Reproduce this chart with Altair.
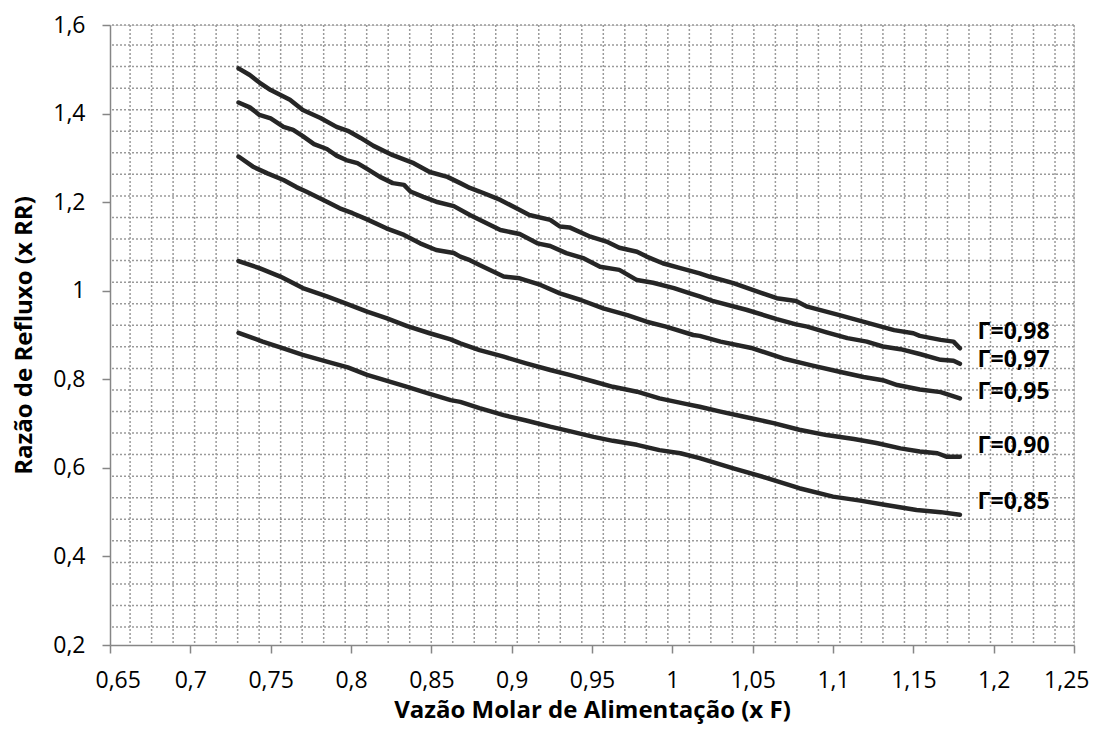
import altair as alt
import pandas as pd

# ---- axis ticks ----
x_ticks = [0.65, 0.7, 0.75, 0.8, 0.85, 0.9, 0.95, 1.0, 1.05, 1.1, 1.15, 1.2, 1.25]
y_ticks = [0.2, 0.4, 0.6, 0.8, 1.0, 1.2, 1.4, 1.6]

# ---- series ----
x_098 = [0.730, 0.737, 0.743, 0.750, 0.762, 0.770, 0.781, 0.791, 0.798, 0.806, 0.814, 0.826, 0.839, 0.849,
         0.860, 0.868, 0.874, 0.880, 0.893, 0.903, 0.911, 0.924, 0.930, 0.936, 0.949, 0.959, 0.967, 0.978,
         0.984, 0.994, 1.005, 1.017, 1.023, 1.038, 1.065, 1.077, 1.084, 1.104, 1.121, 1.138, 1.150, 1.154,
         1.167, 1.175, 1.179]
y_098 = [1.502, 1.487, 1.470, 1.453, 1.431, 1.408, 1.390, 1.370, 1.361, 1.345, 1.327, 1.306, 1.288, 1.268,
         1.257, 1.243, 1.232, 1.224, 1.205, 1.186, 1.171, 1.160, 1.145, 1.143, 1.122, 1.111, 1.097, 1.088,
         1.077, 1.062, 1.051, 1.039, 1.032, 1.017, 0.983, 0.977, 0.964, 0.945, 0.928, 0.911, 0.904, 0.898,
         0.889, 0.885, 0.870]

x_097 = [0.730, 0.737, 0.743, 0.750, 0.758, 0.764, 0.770, 0.777, 0.785, 0.791, 0.797, 0.804, 0.810, 0.818,
         0.826, 0.833, 0.837, 0.845, 0.853, 0.864, 0.874, 0.880, 0.893, 0.905, 0.916, 0.924, 0.934, 0.945,
         0.955, 0.967, 0.978, 0.988, 1.001, 1.011, 1.017, 1.025, 1.046, 1.065, 1.077, 1.084, 1.096, 1.109,
         1.121, 1.131, 1.142, 1.154, 1.167, 1.175, 1.179]
y_097 = [1.425, 1.414, 1.397, 1.389, 1.370, 1.363, 1.349, 1.331, 1.320, 1.305, 1.295, 1.288, 1.275, 1.257,
         1.243, 1.239, 1.224, 1.212, 1.201, 1.191, 1.171, 1.160, 1.137, 1.128, 1.107, 1.101, 1.085, 1.073,
         1.054, 1.047, 1.024, 1.018, 1.006, 0.994, 0.987, 0.977, 0.957, 0.936, 0.924, 0.919, 0.906, 0.893,
         0.885, 0.874, 0.868, 0.857, 0.844, 0.842, 0.835]

x_095 = [0.730, 0.739, 0.748, 0.758, 0.766, 0.772, 0.785, 0.793, 0.801, 0.810, 0.822, 0.833, 0.843, 0.853,
         0.864, 0.868, 0.874, 0.880, 0.895, 0.905, 0.918, 0.930, 0.943, 0.957, 0.972, 0.984, 0.996, 1.013,
         1.017, 1.030, 1.050, 1.069, 1.086, 1.104, 1.119, 1.131, 1.140, 1.154, 1.167, 1.179]
y_095 = [1.303, 1.280, 1.265, 1.250, 1.234, 1.224, 1.201, 1.186, 1.175, 1.161, 1.141, 1.126, 1.107, 1.092,
         1.085, 1.077, 1.069, 1.058, 1.032, 1.028, 1.013, 0.994, 0.979, 0.960, 0.945, 0.930, 0.919, 0.900,
         0.898, 0.885, 0.870, 0.847, 0.832, 0.817, 0.805, 0.798, 0.787, 0.777, 0.771, 0.757]

x_090 = [0.730, 0.743, 0.756, 0.770, 0.785, 0.797, 0.810, 0.822, 0.835, 0.849, 0.862, 0.868, 0.880, 0.895,
         0.909, 0.924, 0.936, 0.951, 0.963, 0.978, 0.992, 1.009, 1.017, 1.030, 1.044, 1.063, 1.079, 1.096,
         1.113, 1.127, 1.142, 1.154, 1.165, 1.171, 1.179]
y_090 = [1.067, 1.051, 1.032, 1.006, 0.987, 0.971, 0.953, 0.938, 0.920, 0.904, 0.890, 0.881, 0.866, 0.851,
         0.836, 0.821, 0.810, 0.795, 0.783, 0.772, 0.757, 0.744, 0.738, 0.727, 0.716, 0.701, 0.686, 0.674,
         0.665, 0.656, 0.644, 0.637, 0.633, 0.625, 0.625]

x_085 = [0.730, 0.745, 0.756, 0.770, 0.785, 0.798, 0.810, 0.822, 0.835, 0.849, 0.862, 0.868, 0.880, 0.895,
         0.909, 0.924, 0.936, 0.951, 0.963, 0.978, 0.992, 1.005, 1.017, 1.038, 1.059, 1.079, 1.100, 1.117,
         1.133, 1.152, 1.167, 1.179]
y_085 = [0.905, 0.885, 0.872, 0.855, 0.840, 0.827, 0.810, 0.797, 0.783, 0.767, 0.753, 0.749, 0.735, 0.719,
         0.707, 0.693, 0.683, 0.670, 0.661, 0.652, 0.640, 0.633, 0.622, 0.599, 0.577, 0.554, 0.535, 0.526,
         0.516, 0.505, 0.500, 0.494]

series_names = ["Γ=0,98", "Γ=0,97", "Γ=0,95", "Γ=0,90", "Γ=0,85"]
label_x = [1.19, 1.19, 1.19, 1.19, 1.19]
label_y = [0.907, 0.844, 0.772, 0.650, 0.524]

# ---- background pattern grid positions (data units) ----
grid_x0, grid_dx, grid_nx = 0.6625, 0.013388, 44
grid_y0, grid_dy, grid_ny = 1.5548, 0.04868, 28

# ---- build tables ----
rows = []
for name, xs, ys in zip(series_names,
                        [x_098, x_097, x_095, x_090, x_085],
                        [y_098, y_097, y_095, y_090, y_085]):
    for i, (a, b) in enumerate(zip(xs, ys)):
        rows.append({"serie": name, "F": a, "RR": b, "i": i})
lines_df = pd.DataFrame(rows)
labels_df = pd.DataFrame({"serie": series_names, "F": label_x, "RR": label_y})
vgrid_df = pd.DataFrame({"gx": [grid_x0 + k * grid_dx for k in range(grid_nx)] + [1.25]})
hgrid_df = pd.DataFrame({"gy": [1.6] + [grid_y0 - k * grid_dy for k in range(grid_ny)]})

FONT = "Open Sans"
AX = "#868686"
label_expr = "replace(toString(datum.value), '.', ',')"

x_scale = alt.Scale(domain=[0.65, 1.25], nice=False, zero=False)
y_scale = alt.Scale(domain=[0.2, 1.6], nice=False, zero=False)

x_axis = alt.Axis(values=x_ticks, labelExpr=label_expr, grid=False, domainColor=AX, domainWidth=1.5,
                  tickColor=AX, tickWidth=1.5, tickSize=8, labelFont=FONT, labelFontSize=23,
                  labelColor="black", labelPadding=16, labelFlush=True, labelFlushOffset=15,
                  labelOverlap=False,
                  title="Vazão Molar de Alimentação (x F)", titleFont=FONT, titleFontSize=24,
                  titleFontWeight="bold", titleColor="black", titleX=482, titleY=65,
                  titleBaseline="middle", titleAlign="center")
y_axis = alt.Axis(values=y_ticks, labelExpr=label_expr, grid=False, domainColor=AX, domainWidth=1.5,
                  tickColor=AX, tickWidth=1.5, tickSize=8, labelFont=FONT, labelFontSize=23,
                  labelColor="black", labelPadding=17, labelOverlap=False, labelFlush=False,
                  title="Razão de Refluxo (x RR)", titleFont=FONT, titleFontSize=24,
                  titleFontWeight="bold", titleColor="black", titleX=-86, titleY=310,
                  titleAngle=270, titleBaseline="middle", titleAlign="center")

vgrid = alt.Chart(vgrid_df).mark_rule(color="#9a9a9a", strokeWidth=1.5, strokeDash=[2, 2]).encode(
    x=alt.X("gx:Q", scale=x_scale, axis=x_axis)
)
hgrid = alt.Chart(hgrid_df).mark_rule(color="#9a9a9a", strokeWidth=1.5, strokeDash=[2, 2]).encode(
    y=alt.Y("gy:Q", scale=y_scale, axis=y_axis)
)
lines = alt.Chart(lines_df).mark_line(color="#262626", strokeWidth=4.5, strokeJoin="round",
                                      strokeCap="round").encode(
    x=alt.X("F:Q", scale=x_scale, axis=x_axis),
    y=alt.Y("RR:Q", scale=y_scale, axis=y_axis),
    detail="serie:N",
    order="i:Q",
)
labels = alt.Chart(labels_df).mark_text(align="left", baseline="middle", font=FONT, fontSize=23,
                                        fontWeight="bold", color="black").encode(
    x=alt.X("F:Q", scale=x_scale, axis=x_axis),
    y=alt.Y("RR:Q", scale=y_scale, axis=y_axis),
    text="serie:N",
)

chart = alt.layer(vgrid, hgrid, lines, labels).properties(
    width=964, height=620,
    padding={"left": 102, "top": 17, "right": 16, "bottom": 98},
    autosize=alt.AutoSizeParams(type="none"),
).configure_view(stroke=None).configure(background="white")

chart.save("out.html", embed_options={"renderer": "svg", "actions": False})
